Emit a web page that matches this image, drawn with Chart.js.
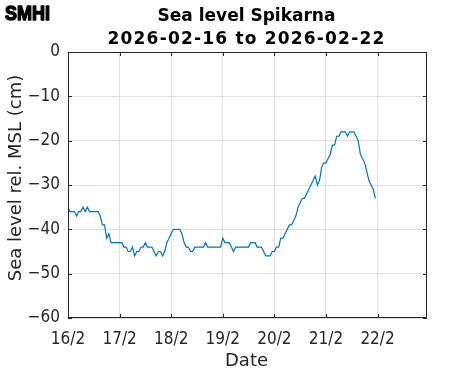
<!DOCTYPE html>
<html>
<head>
<meta charset="utf-8">
<script src="https://cdn.jsdelivr.net/npm/chart.js@4.4.1/dist/chart.umd.min.js"></script>
<style>
    html, body { margin: 0; padding: 0; background: #fff; }
    #wrap { width: 471px; height: 371px; }
</style>
</head>
<body>
<div id="wrap"><canvas id="chart-sea"></canvas></div>
<script>
    // hourly sea level (cm) from 2026-02-16 00:00
    const seaLevel = [
        -35, -36, -36, -36, -37, -36, -36, -35, -36, -35, -36, -36,
        -36, -36, -36, -37, -39, -39, -42, -41, -43, -43, -43, -43,
        -43, -43, -44, -44, -45, -45, -44, -46, -45, -45, -44, -44,
        -43, -44, -44, -44, -45, -46, -45, -45, -46, -45, -43, -42,
        -41, -40, -40, -40, -40, -41, -43, -44, -44, -45, -45, -44,
        -44, -44, -44, -44, -43, -44, -44, -44, -44, -44, -44, -44,
        -42, -43, -43, -43, -44, -45, -44, -44, -44, -44, -44, -44,
        -44, -43, -43, -43, -44, -44, -44, -45, -46, -46, -46, -45,
        -45, -44, -44, -42, -42, -41, -40, -39, -39, -38, -37, -35,
        -34, -33, -33, -32, -31, -30, -29, -28, -30, -29, -26, -25,
        -25, -24, -23, -21, -21, -19, -19, -18, -18, -18, -19, -18,
        -18, -18, -19, -20, -23, -24, -25, -27, -29, -30, -31, -33
    ];
    const dayLabels = ['16/2', '17/2', '18/2', '19/2', '20/2', '21/2', '22/2'];
    const yTicks = [0, -10, -20, -30, -40, -50, -60];
    const titleLines = ['Sea level Spikarna', '2026-02-16 to 2026-02-22'];
    const xTitle = 'Date';
    const yTitle = 'Sea level rel. MSL (cm)';

    const inkColor = '#262626';
    const tickFont = { family: '"DejaVu Sans Condensed", "DejaVu Sans"', size: 17 };

    // box, inside tick marks, titles and logo
    const framePlugin = {
        id: 'frame',
        afterDraw(chart) {
            const { ctx, chartArea: a, scales } = chart;
            ctx.save();
            ctx.strokeStyle = inkColor;
            ctx.lineWidth = 1;
            ctx.beginPath();
            ctx.rect(a.left + 0.5, a.top + 0.5, a.right - a.left - 1, a.bottom - a.top - 1);
            dayLabels.forEach((_, i) => {
                const x = Math.round(scales.x.getPixelForValue(i * 24)) + 0.5;
                ctx.moveTo(x, a.bottom); ctx.lineTo(x, a.bottom - 4);
                ctx.moveTo(x, a.top); ctx.lineTo(x, a.top + 4);
            });
            yTicks.forEach(v => {
                const y = Math.round(scales.y.getPixelForValue(v)) + 0.5;
                ctx.moveTo(a.left, y); ctx.lineTo(a.left + 4, y);
                ctx.moveTo(a.right, y); ctx.lineTo(a.right - 4, y);
            });
            ctx.stroke();

            // chart title
            ctx.fillStyle = '#000';
            ctx.font = 'bold 17px "DejaVu Sans"';
            ctx.textAlign = 'center';
            ctx.textBaseline = 'alphabetic';
            const cx = (a.left + a.right) / 2 - 1;
            ctx.fillText(titleLines[0], cx, 21);
            ctx.letterSpacing = '1.2px';
            ctx.fillText(titleLines[1], cx, 44);
            ctx.letterSpacing = '0px';

            // axis titles
            ctx.fillStyle = inkColor;
            ctx.font = '18px "DejaVu Sans"';
            ctx.fillText(xTitle, cx, 366);
            ctx.save();
            ctx.translate(21, 178);
            ctx.rotate(-Math.PI / 2);
            ctx.fillText(yTitle, 0, 0);
            ctx.restore();

            // logo
            ctx.fillStyle = '#000';
            ctx.strokeStyle = '#000';
            ctx.lineWidth = 1.4;
            ctx.lineJoin = 'round';
            ctx.font = 'bold 20px "Liberation Sans"';
            ctx.textAlign = 'left';
            const w = ctx.measureText('SMHI').width;
            ctx.translate(5, 19.5);
            ctx.scale(45 / w, 1.05);
            ctx.fillText('SMHI', 0, 0);
            ctx.strokeText('SMHI', 0, 0);
            ctx.restore();
        }
    };

    const ctx = document.getElementById('chart-sea').getContext('2d');
    new Chart(ctx, {
        type: 'line',
        data: {
            datasets: [{
                label: 'Sea level',
                data: seaLevel.map((v, i) => ({ x: i, y: v })),
                borderColor: '#0072BD',
                borderWidth: 1.2,
                pointRadius: 0,
                tension: 0,
                fill: false
            }]
        },
        options: {
            responsive: true,
            maintainAspectRatio: false,
            animation: false,
            layout: { padding: { left: 0, right: 44, top: 52, bottom: 0 } },
            plugins: {
                legend: { display: false },
                tooltip: { enabled: false }
            },
            scales: {
                x: {
                    type: 'linear',
                    min: 0,
                    max: 167,
                    afterBuildTicks: scale => {
                        scale.ticks = dayLabels.map((_, i) => ({ value: i * 24 }));
                    },
                    afterFit: scale => { scale.height = 53; },
                    grid: { color: '#dfdfdf', drawTicks: false },
                    border: { display: false },
                    ticks: {
                        color: inkColor,
                        font: tickFont,
                        padding: 11,
                        maxRotation: 0,
                        autoSkip: false,
                        callback: v => dayLabels[v / 24]
                    }
                },
                y: {
                    min: -60,
                    max: 0,
                    afterBuildTicks: scale => {
                        scale.ticks = yTicks.map(v => ({ value: v }));
                    },
                    afterFit: scale => { scale.width = 68; },
                    grid: { color: '#dfdfdf', drawTicks: false },
                    border: { display: false },
                    ticks: {
                        color: inkColor,
                        font: tickFont,
                        padding: 8,
                        callback: v => (v < 0 ? '\u2212' + Math.abs(v) : String(v))
                    }
                }
            }
        },
        plugins: [framePlugin]
    });
</script>
</body>
</html>
